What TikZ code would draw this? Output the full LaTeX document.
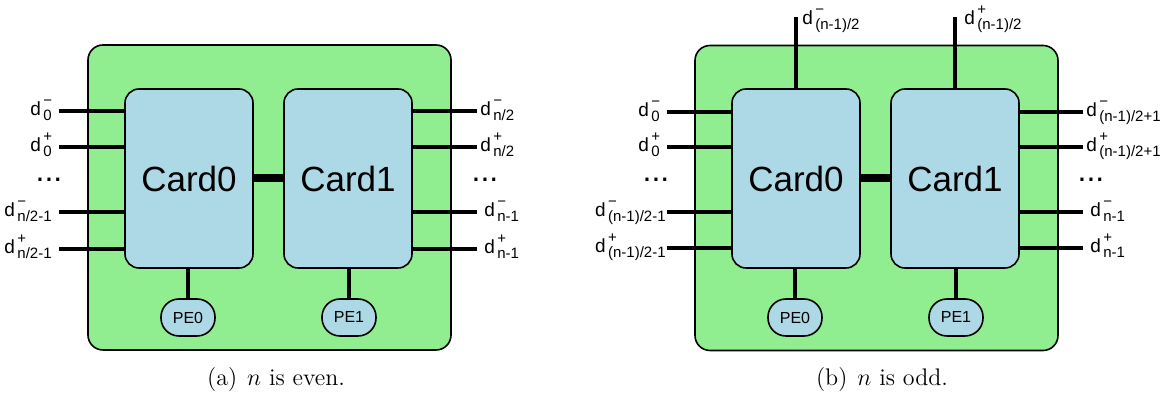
\documentclass[tikz,border=0pt]{standalone}
\usepackage{amsmath}
\usepackage{fontspec}
\newfontfamily\arialfont{Liberation Sans}
\usepackage{tikz}
\usetikzlibrary{positioning,calc}
\definecolor{boardgreen}{RGB}{144,238,144}
\definecolor{cardblue}{RGB}{173,216,230}
% signal name: d with stacked sign and index
\newcommand{\dsig}[2]{d\hspace{1.2pt}\rlap{\raisebox{5pt}{\fontsize{7.5}{9}\selectfont#1}}\raisebox{-2.5pt}{\fontsize{7.5}{9}\selectfont#2}}

\begin{document}
\begin{tikzpicture}[x=0.5pt,y=-0.5pt,
  board/.style={draw,line width=0.8pt,rounded corners=7.5pt,fill=boardgreen,minimum width=181.5pt,minimum height=152.5pt},
  card/.style={draw,line width=0.8pt,rounded corners=7pt,fill=cardblue,minimum width=64pt,minimum height=89.5pt,font=\arialfont\fontsize{17.5}{20}\selectfont},
  pe/.style={draw,line width=0.8pt,rounded corners=9pt,fill=cardblue,minimum width=27pt,minimum height=18.5pt,inner sep=0pt,font=\arialfont\fontsize{8}{10}\selectfont},
  wire/.style={line width=1.6pt},
  link/.style={line width=4pt},
  sigl/.style={anchor=base east,inner sep=0pt,xshift=-3.5pt,yshift=-2.2pt,font=\arialfont\fontsize{9.5}{11}\selectfont},
  sigr/.style={anchor=base west,inner sep=0pt,xshift=1.5pt,yshift=-2.2pt,font=\arialfont\fontsize{9.5}{11}\selectfont},
  sigt/.style={anchor=base west,inner sep=0pt,xshift=3pt,yshift=-4pt,font=\arialfont\fontsize{9.5}{11}\selectfont},
  dots/.style={anchor=base,inner sep=0pt,font=\arialfont\fontsize{16}{18}\selectfont},
  caption/.style={anchor=base,font=\rmfamily\fontsize{12}{14}\selectfont}]
\useasboundingbox (0,0) rectangle (1163,399);

% (a) n even
\node[board] (boarda) at (269.5,197.5) {};
\node[card] (card0a) at (189,178.5) {Card0};
\node[card] (card1a) at (348,178.5) {Card1};
\node[pe] (pe0a) at (188,317.5) {PE0};
\node[pe] (pe1a) at (349,317.5) {PE1};
\draw[link] (card0a.east) -- (card1a.west);
\draw[wire] (pe0a.north) -- (pe0a.north |- card0a.south);
\draw[wire] (pe1a.north) -- (pe1a.north |- card1a.south);
\coordinate (la1) at (59,111); \coordinate (la2) at (59,147);
\coordinate (la3) at (59,212); \coordinate (la4) at (59,249);
\coordinate (ra1) at (477,111); \coordinate (ra2) at (477,147);
\coordinate (ra3) at (477,212); \coordinate (ra4) at (477,249);
\foreach \w in {la1,la2,la3,la4} \draw[wire] (\w) -- (card0a.west |- \w);
\foreach \w in {ra1,ra2,ra3,ra4} \draw[wire] (\w) -- (card1a.east |- \w);
\node[sigl] (sla1) at (la1) {\dsig{−}{0}};
\node[sigl] (sla2) at (la2) {\dsig{+}{0}};
\node[sigl] (sla3) at (la3) {\dsig{−}{n/2-1}};
\node[sigl] (sla4) at (la4) {\dsig{+}{n/2-1}};
\node[sigr] (sra1) at (ra1) {\dsig{−}{n/2}};
\node[sigr] (sra2) at (ra2) {\dsig{+}{n/2}};
\node[sigr,xshift=2pt] (sra3) at (ra3) {\dsig{−}{n-1}};
\node[sigr,xshift=2pt] (sra4) at (ra4) {\dsig{+}{n-1}};
\node[dots] (dla) at (49,182) {...};
\node[dots] (dra) at (485,182) {...};
\node[caption] (capa) at (276,386) {(a)\hspace{5pt}$n$ is even.};

% (b) n odd
\node[board] (boardb) at (876.5,198) {};
\node[card] (card0b) at (796,178.5) {Card0};
\node[card] (card1b) at (955,178.5) {Card1};
\node[pe] (pe0b) at (795,317.5) {PE0};
\node[pe] (pe1b) at (956,317.5) {PE1};
\draw[link] (card0b.east) -- (card1b.west);
\draw[wire] (pe0b.north) -- (pe0b.north |- card0b.south);
\draw[wire] (pe1b.north) -- (pe1b.north |- card1b.south);
\coordinate (lb1) at (667,112); \coordinate (lb2) at (667,147);
\coordinate (lb3) at (667,212); \coordinate (lb4) at (667,248);
\coordinate (rb1) at (1083,112); \coordinate (rb2) at (1083,147);
\coordinate (rb3) at (1083,212); \coordinate (rb4) at (1083,248);
\coordinate (tb0) at (796,17); \coordinate (tb1) at (955,17);
\foreach \w in {lb1,lb2,lb3,lb4} \draw[wire] (\w) -- (card0b.west |- \w);
\foreach \w in {rb1,rb2,rb3,rb4} \draw[wire] (\w) -- (card1b.east |- \w);
\draw[wire] (tb0) -- (card0b.north);
\draw[wire] (tb1) -- (card1b.north);
\node[sigl] (slb1) at (lb1) {\dsig{−}{0}};
\node[sigl] (slb2) at (lb2) {\dsig{+}{0}};
\node[sigl,xshift=3pt] (slb3) at (lb3) {\dsig{−}{(n-1)/2-1}};
\node[sigl,xshift=3pt] (slb4) at (lb4) {\dsig{+}{(n-1)/2-1}};
\node[sigr] (srb1) at (rb1) {\dsig{−}{(n-1)/2+1}};
\node[sigr] (srb2) at (rb2) {\dsig{+}{(n-1)/2+1}};
\node[sigr,xshift=2pt] (srb3) at (rb3) {\dsig{−}{n-1}};
\node[sigr,xshift=2pt] (srb4) at (rb4) {\dsig{+}{n-1}};
\node[sigt] (stb0) at (tb0) {\dsig{−}{(n-1)/2}};
\node[sigt,xshift=1.5pt] (stb1) at (tb1) {\dsig{+}{(n-1)/2}};
\node[dots] (dlb) at (656,182) {...};
\node[dots] (drb) at (1091,182) {...};
\node[caption] (capb) at (882,386) {(b)\hspace{5pt}$n$ is odd.};
\end{tikzpicture}
\end{document}
